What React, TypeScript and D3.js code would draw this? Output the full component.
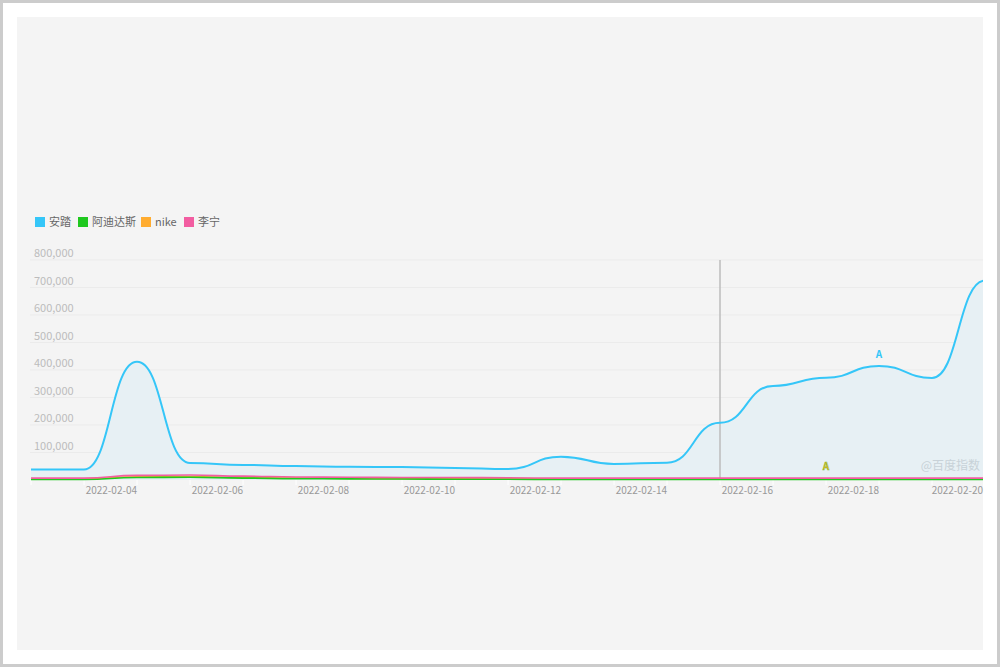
import * as d3 from "d3";
import React, { useEffect, useRef } from "react";

// daily baidu index, 2022-02-02 .. 2022-02-20
const dates = [
    "2022-02-02", "2022-02-03", "2022-02-04", "2022-02-05", "2022-02-06", "2022-02-07", "2022-02-08",
    "2022-02-09", "2022-02-10", "2022-02-11", "2022-02-12", "2022-02-13", "2022-02-14", "2022-02-15",
    "2022-02-16", "2022-02-17", "2022-02-18", "2022-02-19", "2022-02-20",
];
const anta = [38000, 38000, 430000, 62000, 55000, 51000, 48000, 47000, 44000, 40000, 85000, 58000, 63000, 208000, 342000, 372000, 415000, 371000, 725000];
const adidas = [2000, 2000, 9000, 10000, 7000, 5000, 4000, 3500, 3000, 2500, 2000, 2000, 2000, 2000, 2000, 2000, 2000, 2000, 2000];
const nike = [4000, 4000, 12000, 13000, 9000, 7000, 6000, 5000, 5000, 4000, 4000, 4000, 4000, 4000, 4000, 4000, 4000, 4000, 4000];
const lining = [7000, 7000, 17000, 18000, 14000, 11000, 10000, 9000, 9000, 8000, 7000, 7000, 7000, 7000, 7000, 7000, 7000, 7000, 7000];

const seriesNames = ["安踏", "阿迪达斯", "nike", "李宁"];
const seriesColors = ["#35c6f8", "#1fc81f", "#ffac30", "#f25da1"];
const yTicks = [100000, 200000, 300000, 400000, 500000, 600000, 700000, 800000];
const xLabels = ["2022-02-04", "2022-02-06", "2022-02-08", "2022-02-10", "2022-02-12", "2022-02-14", "2022-02-16", "2022-02-18", "2022-02-20"];
const hoverDate = "2022-02-15";

const FONT = "'Microsoft YaHei', 'Noto Sans CJK SC', 'Noto Sans', sans-serif";

function drawChart(svgRef: React.RefObject<SVGSVGElement | null>) {
    const fullwidth = 1000;
    const fullheight = 667;

    const svg = d3.select(svgRef.current)
        .attr("width", fullwidth)
        .attr("height", fullheight);
    svg.selectAll("*").remove();

    // frame + panel
    svg.append("rect").attr("x", 1.5).attr("y", 1.5).attr("width", 997).attr("height", 664)
        .attr("fill", "#fff").attr("stroke", "#cccccc").attr("stroke-width", 3);
    svg.append("rect").attr("x", 17).attr("y", 17).attr("width", 966).attr("height", 633).attr("fill", "#f4f4f4");

    svg.append("defs").append("clipPath").attr("id", "plotclip")
        .append("rect").attr("x", 17).attr("y", 17).attr("width", 966).attr("height", 633);

    const parse = d3.timeParse("%Y-%m-%d");
    const days = dates.map(d => parse(d) as Date);

    const x = d3.scaleTime()
        .domain([days[0], days[days.length - 1]])
        .range([31, 985]);
    const y = d3.scaleLinear()
        .domain([0, 800000])
        .range([480, 260]);

    // grid
    const grid = svg.append("g");
    grid.selectAll("line").data(yTicks).enter().append("line")
        .attr("x1", 30).attr("x2", 983)
        .attr("y1", d => y(d)).attr("y2", d => y(d))
        .attr("stroke", "#ebebeb").attr("stroke-width", 1);

    grid.selectAll("text").data(yTicks).enter().append("text")
        .attr("x", 34).attr("y", d => y(d) - 3)
        .attr("fill", "#bcbcbc").attr("font-size", 11).attr("font-family", FONT)
        .text(d => d3.format(",")(d));

    const plot = svg.append("g").attr("clip-path", "url(#plotclip)");

    const all = [anta, adidas, nike, lining];

    const area = d3.area<number>()
        .x((_, i) => x(days[i]))
        .y0(y(0))
        .y1(d => y(d))
        .curve(d3.curveBumpX);
    const line = d3.line<number>()
        .x((_, i) => x(days[i]))
        .y(d => y(d))
        .curve(d3.curveBumpX);

    plot.append("path").datum(anta).attr("d", area).attr("fill", "#e7f0f4");

    // tick marks
    plot.selectAll(".tick").data(days).enter().append("line")
        .attr("x1", d => x(d)).attr("x2", d => x(d))
        .attr("y1", 480).attr("y2", 485)
        .attr("stroke", "#ffffff").attr("stroke-width", 1);

    // hover line
    const hx = x(parse(hoverDate) as Date);
    plot.append("line").attr("x1", hx).attr("x2", hx).attr("y1", 260).attr("y2", 480)
        .attr("stroke", "#bdbdbd").attr("stroke-width", 1.5);

    // small series first, anta on top
    [2, 1, 3, 0].forEach(k => {
        plot.append("path").datum(all[k]).attr("d", line)
            .attr("fill", "none")
            .attr("stroke", seriesColors[k])
            .attr("stroke-width", k == 0 ? 2 : 1.6);
    });

    // x labels, right aligned at their day
    svg.append("g").selectAll("text").data(xLabels).enter().append("text")
        .attr("x", d => Math.min(x(parse(d) as Date), 983))
        .attr("y", 494)
        .attr("text-anchor", "end")
        .attr("fill", "#999").attr("font-size", 10).attr("font-family", FONT)
        .text(d => d);

    // annotations
    const i18 = dates.indexOf("2022-02-18");
    svg.append("text").attr("x", x(days[i18])).attr("y", 358).attr("text-anchor", "middle")
        .attr("fill", seriesColors[0]).attr("font-size", 10).attr("font-weight", "bold").attr("font-family", FONT)
        .text("A");
    const i17 = dates.indexOf("2022-02-17");
    svg.append("text").attr("x", x(days[i17])).attr("y", 470).attr("text-anchor", "middle")
        .attr("fill", "#e3b21c").attr("stroke", "#6cc03a").attr("stroke-width", 0.4)
        .attr("font-size", 10).attr("font-weight", "bold").attr("font-family", FONT)
        .text("A");

    svg.append("text").attr("x", 980).attr("y", 470).attr("text-anchor", "end")
        .attr("fill", "#c8d2d8").attr("font-size", 12).attr("font-family", FONT)
        .text("@百度指数");

    // legend
    const legendX = [35, 78, 141, 184];
    const lg = svg.append("g");
    seriesNames.forEach((name, i) => {
        lg.append("rect").attr("x", legendX[i]).attr("y", 217).attr("width", 10).attr("height", 10)
            .attr("fill", seriesColors[i]);
        lg.append("text").attr("x", legendX[i] + 14).attr("y", 226)
            .attr("fill", "#666").attr("font-size", 11).attr("font-family", FONT)
            .text(name);
    });
}

export default function App() {
    const svg = useRef<SVGSVGElement>(null);

    useEffect(() => {
        drawChart(svg);
    }, []);

    return <div style={{ position: "absolute", left: 0, top: 0 }}>
        <svg ref={svg} style={{ display: "block" }}></svg>
    </div>
}
